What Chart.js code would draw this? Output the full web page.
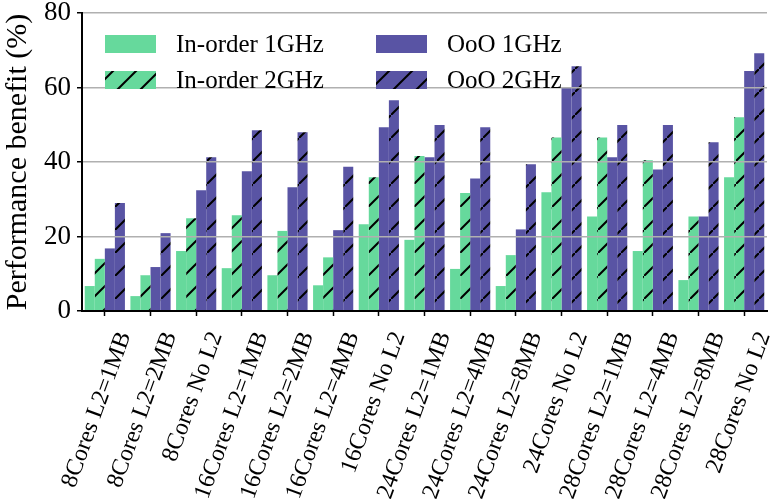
<!DOCTYPE html>
<html>
<head>
<meta charset="utf-8">
<script src="https://cdn.jsdelivr.net/npm/chart.js@4.4.1/dist/chart.umd.min.js"></script>
<style>
    body { margin: 0; background: #fff; }
    canvas { display: block; }
</style>
</head>
<body>
<canvas id="benefitChart" width="774" height="500"></canvas>
<script>
const categories = [
    '8Cores L2=1MB', '8Cores L2=2MB', '8Cores No L2',
    '16Cores L2=1MB', '16Cores L2=2MB', '16Cores L2=4MB', '16Cores No L2',
    '24Cores L2=1MB', '24Cores L2=4MB', '24Cores L2=8MB', '24Cores No L2',
    '28Cores L2=1MB', '28Cores L2=4MB', '28Cores L2=8MB', '28Cores No L2'
];
const inOrder1GHz = [6.7, 4.0, 16.1, 11.5, 9.6, 6.9, 23.3, 19.1, 11.3, 6.7, 31.9, 25.4, 16.1, 8.3, 35.9];
const inOrder2GHz = [14.0, 9.6, 24.9, 25.7, 21.5, 14.4, 35.9, 41.6, 31.7, 15.0, 46.6, 46.6, 40.5, 25.4, 52.0];
const ooo1GHz = [16.8, 11.8, 32.4, 37.5, 33.2, 21.7, 49.3, 41.3, 35.6, 21.9, 60.0, 41.3, 38.0, 25.4, 64.4];
const ooo2GHz = [29.0, 20.9, 41.3, 48.5, 48.0, 38.7, 56.6, 49.9, 49.3, 39.4, 65.7, 49.9, 49.9, 45.3, 69.2];
const yTicks = [0, 20, 40, 60, 80];

const GREEN = 'rgb(102, 217, 156)';
const PURPLE = 'rgb(89, 84, 164)';
const SERIF = '"Liberation Serif", "Times New Roman", serif';

// hatched fill: base colour with black "/" lines
function hatch(color) {
    const size = 23;
    const tile = document.createElement('canvas');
    tile.width = size;
    tile.height = size;
    const c = tile.getContext('2d');
    c.fillStyle = color;
    c.fillRect(0, 0, size, size);
    c.strokeStyle = '#000';
    c.lineWidth = 2;
    c.beginPath();
    c.moveTo(-size, 2 * size); c.lineTo(2 * size, -size);
    c.stroke();
    return c.createPattern(tile, 'repeat');
}

const ctx = document.getElementById('benefitChart').getContext('2d');
const green2 = hatch(GREEN);
const purple2 = hatch(PURPLE);

const legendItems = [
    { text: 'In-order 1GHz', fill: GREEN, x: 105, y: 35 },
    { text: 'In-order 2GHz', fill: green2, x: 105, y: 71 },
    { text: 'OoO 1GHz', fill: PURPLE, x: 376, y: 35 },
    { text: 'OoO 2GHz', fill: purple2, x: 376, y: 71 }
];

const legendPlugin = {
    id: 'boxLegend',
    afterDraw(chart) {
        const c = chart.ctx;
        c.save();
        c.font = '25px ' + SERIF;
        c.textBaseline = 'alphabetic';
        legendItems.forEach(item => {
            c.fillStyle = item.fill;
            c.fillRect(item.x, item.y, 51, 18);
            c.fillStyle = '#000';
            c.fillText(item.text, item.x + 71, item.y + 17);
        });
        c.restore();
    }
};

new Chart(ctx, {
    type: 'bar',
    data: {
        labels: categories,
        datasets: [
            { label: 'In-order 1GHz', data: inOrder1GHz, backgroundColor: GREEN },
            { label: 'In-order 2GHz', data: inOrder2GHz, backgroundColor: green2 },
            { label: 'OoO 1GHz', data: ooo1GHz, backgroundColor: PURPLE },
            { label: 'OoO 2GHz', data: ooo2GHz, backgroundColor: purple2 }
        ]
    },
    options: {
        responsive: false,
        animation: false,
        devicePixelRatio: 1,
        categoryPercentage: 0.88,
        barPercentage: 1,
        layout: { padding: { top: 13, right: 7, bottom: 0, left: 0 } },
        plugins: {
            legend: { display: false },
            tooltip: { enabled: false }
        },
        scales: {
            x: {
                grid: {
                    offset: false,
                    drawOnChartArea: false,
                    tickLength: 5,
                    tickColor: '#000',
                    tickWidth: 1.5
                },
                border: { color: '#000', width: 2, z: 1 },
                ticks: {
                    autoSkip: false,
                    minRotation: 70,
                    maxRotation: 70,
                    labelOffset: 20,
                    padding: 12,
                    color: '#000',
                    font: { family: SERIF, size: 24 }
                },
                afterFit: s => {
                    s.height = 189;
                    s.paddingLeft = 0;
                    s.paddingRight = 0;
                }
            },
            y: {
                min: 0,
                max: 80,
                afterBuildTicks: s => { s.ticks = yTicks.map(v => ({ value: v })); },
                grid: {
                    z: 1,
                    color: c => c.tick && c.tick.value === 0 ? 'rgba(0,0,0,0)' : '#b0b0b0',
                    lineWidth: 1.5,
                    tickLength: 5,
                    tickColor: '#000',
                    tickWidth: 1.5
                },
                border: { color: '#000', width: 2, z: 1 },
                ticks: {
                    padding: 6,
                    color: '#000',
                    font: { family: SERIF, size: 27 }
                },
                title: {
                    display: true,
                    text: 'Performance benefit (%)',
                    color: '#000',
                    padding: { top: 0, bottom: 0 },
                    font: { family: SERIF, size: 30 }
                },
                afterFit: s => {
                    s.width = 82;
                    s.paddingTop = 0;
                    s.paddingBottom = 0;
                }
            }
        }
    },
    plugins: [legendPlugin]
});
</script>
</body>
</html>
